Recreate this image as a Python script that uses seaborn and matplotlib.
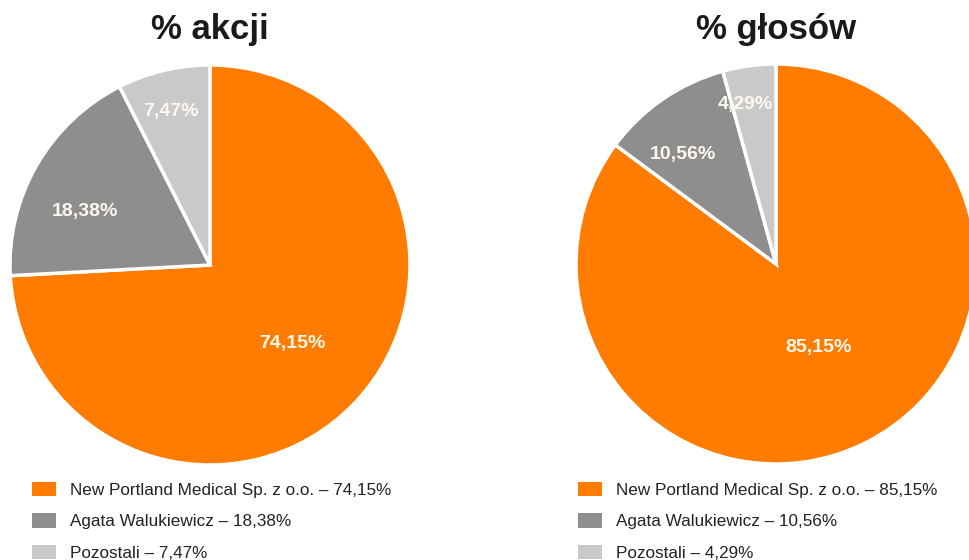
import numpy as np
import matplotlib
matplotlib.use("Agg")
import matplotlib.pyplot as plt
from matplotlib.patches import Patch
import seaborn as sns

# ---- data ----
categories = ["New Portland Medical Sp. z o.o.", "Agata Walukiewicz", "Pozostali"]
shares = [74.15, 18.38, 7.47]      # % akcji
votes = [85.15, 10.56, 4.29]       # % głosów
titles = ["% akcji", "% głosów"]

def fmt(v):
    return f"{v:.2f}".replace(".", ",") + "%"

sns.set_theme(style="white")
plt.rcParams['font.family'] = ['Liberation Sans', 'DejaVu Sans']

colors = ["#FF7C00", "#8E8E8E", "#C9C9C9"]

W, H = 969, 560
fig = plt.figure(figsize=(W / 100, H / 100), dpi=100)
fig.patch.set_facecolor("white")

R = 200
centers = [(210, 265), (776, 264)]
label_dist = [[0.57, 0.68, 0.79], [0.47, 0.72, 0.81]]
label_rot = [[0, 7, 1], [0, 6, 3]]   # small angular nudges (degrees)
legend_x = [32, 578]

for i, (vals, title) in enumerate(zip([shares, votes], titles)):
    cx, cy = centers[i]
    ax = fig.add_axes([(cx - R) / W, (H - cy - R) / H, 2 * R / W, 2 * R / H])
    wedges, _ = ax.pie(vals, colors=colors, startangle=90, counterclock=False,
                       radius=1.0,
                       wedgeprops=dict(edgecolor="white", linewidth=2.5))
    ax.set_xlim(-1, 1)
    ax.set_ylim(-1, 1)
    ax.set_aspect("equal")
    ax.axis("off")
    for w, v, d, r in zip(wedges, vals, label_dist[i], label_rot[i]):
        ang = np.deg2rad((w.theta1 + w.theta2) / 2 + r)
        ax.text(d * np.cos(ang), d * np.sin(ang), fmt(v), ha="center", va="center",
                color="#FFF8EE", fontsize=14, fontweight="bold")
    fig.text(cx / W, 1 - 30 / H, title, ha="center", va="center",
             fontsize=25, fontweight="bold", color="#1a1a1a")
    handles = [Patch(facecolor=c, edgecolor="none") for c in colors]
    labels = [f"{c} – {fmt(v)}" for c, v in zip(categories, vals)]
    fig.legend(handles, labels, loc="upper left",
               bbox_to_anchor=(legend_x[i] / W, 1 - 482 / H),
               frameon=False, fontsize=12.3, handlelength=1.4, handleheight=0.9,
               handletextpad=0.85, labelspacing=0.9, borderpad=0, borderaxespad=0,
               labelcolor="#222222")

fig.savefig("out.png", dpi=100, facecolor="white")
